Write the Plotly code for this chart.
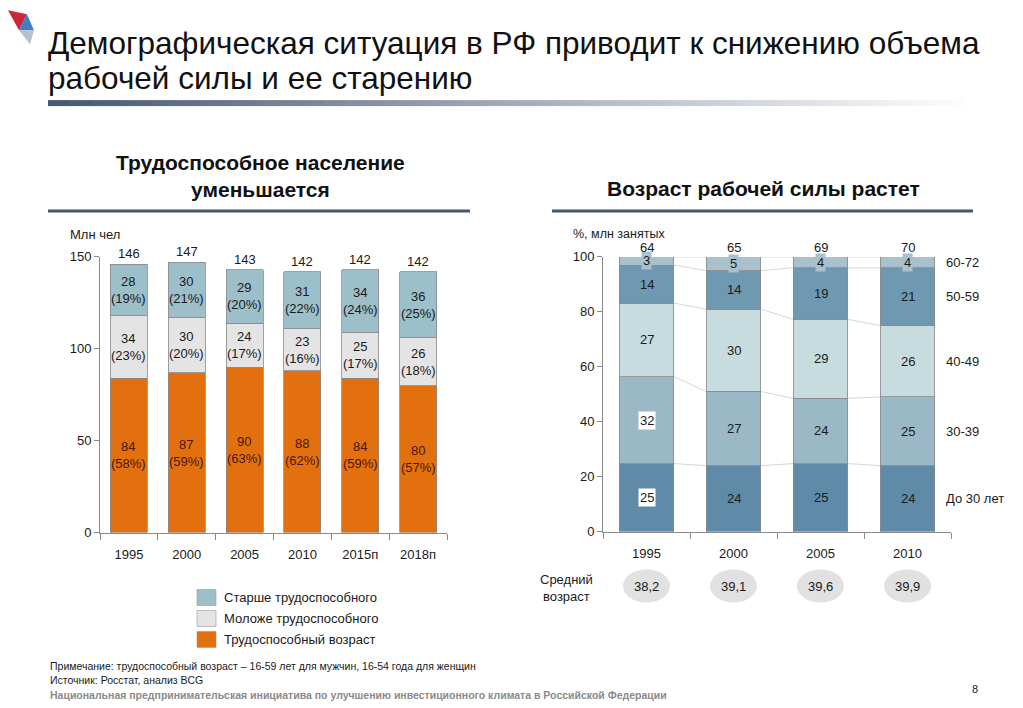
import plotly.graph_objects as go

# ---------------- data ----------------
left_years = ["1995", "2000", "2005", "2010", "2015п", "2018п"]
working_age = [84, 87, 90, 88, 84, 80]
working_pct = [58, 59, 63, 62, 59, 57]
younger = [34, 30, 24, 23, 25, 26]
younger_pct = [23, 20, 17, 16, 17, 18]
older = [28, 30, 29, 31, 34, 36]
older_pct = [19, 21, 20, 22, 24, 25]
left_totals = [146, 147, 143, 142, 142, 142]

right_years = ["1995", "2000", "2005", "2010"]
age_groups = ["До 30 лет", "30-39", "40-49", "50-59", "60-72"]
age_shares = [
    [25, 24, 25, 24],   # до 30
    [32, 27, 24, 25],   # 30-39
    [27, 30, 29, 26],   # 40-49
    [14, 14, 19, 21],   # 50-59
    [3, 5, 4, 4],       # 60-72
]
employed_totals = [64, 65, 69, 70]
avg_age = [38.2, 39.1, 39.6, 39.9]

# ---------------- styles ----------------
FONT = "Liberation Sans, Arial, sans-serif"
C_ORANGE = "#E2700F"
C_GREY = "#E4E4E4"
C_BLUE = "#9DBFCA"
age_colors = ["#5F8BA8", "#9BB8C6", "#C6DCDF", "#6F99B1", "#A8C1CD"]
OFF = 8  # page body margin
W, H = 1023 - 2 * OFF, 708
Y0, YS = 14.8, 0.98  # observed vertical placement of the figure in the page photo


def px(x):
    return (x - OFF) / W


def py(y):
    return 1 - ((y - Y0) / YS) / H


def txt(x, y, text, size=13, color="#1a1a1a", xanchor="center", family=FONT):
    return dict(x=px(x), y=py(y), xref="paper", yref="paper", text=text, showarrow=False,
                xanchor=xanchor, yanchor="middle", font=dict(size=size, color=color, family=family))


fig = go.Figure()

# ---------------- left chart ----------------
xl = list(range(len(left_years)))
bw_l = 0.64
for vals, col, name in [(working_age, C_ORANGE, "Трудоспособный возраст"),
                        (younger, C_GREY, "Моложе трудоспособного"),
                        (older, C_BLUE, "Старше трудоспособного")]:
    fig.add_trace(go.Bar(x=xl, y=vals, marker=dict(color=col, line=dict(color="#8a8a8a", width=0.8)),
                         width=bw_l, name=name, xaxis="x", yaxis="y", showlegend=False,
                         hoverinfo="skip"))

annotations = []
for i in xl:
    base = 0
    for vals, pcts, tc in [(working_age, working_pct, "#4a1800"),
                           (younger, younger_pct, "#1a1a1a"),
                           (older, older_pct, "#1a1a1a")]:
        annotations.append(dict(x=i, y=base + vals[i] / 2, xref="x", yref="y",
                                text=f"{vals[i]}<br>({pcts[i]}%)", showarrow=False,
                                xanchor="center", yanchor="middle",
                                font=dict(size=13, color=tc, family=FONT)))
        base += vals[i]
    annotations.append(dict(x=i, y=base, xref="x", yref="y", text=str(left_totals[i]),
                            showarrow=False, xanchor="center", yanchor="bottom", yshift=1,
                            font=dict(size=13, color="#1a1a1a", family=FONT)))

# ---------------- right chart ----------------
xr = list(range(len(right_years)))
bw_r = 0.63
col_sums = [sum(age_shares[g][j] for g in range(len(age_groups))) for j in xr]
norm = [[age_shares[g][j] * 100 / col_sums[j] for j in xr] for g in range(len(age_groups))]

# connector lines
cum = [[0] * len(xr) for _ in range(len(age_groups))]
for j in xr:
    s = 0
    for g in range(len(age_groups)):
        s += norm[g][j]
        cum[g][j] = s
for g in range(len(age_groups)):
    lx, ly = [], []
    for j in range(len(xr) - 1):
        lx += [xr[j] + bw_r / 2, xr[j + 1] - bw_r / 2, None]
        ly += [cum[g][j], cum[g][j + 1], None]
    fig.add_trace(go.Scatter(x=lx, y=ly, mode="lines", line=dict(color="#cccccc", width=0.8),
                             xaxis="x2", yaxis="y2", showlegend=False, hoverinfo="skip"))

for g, name in enumerate(age_groups):
    fig.add_trace(go.Bar(x=xr, y=norm[g], marker=dict(color=age_colors[g], line=dict(color="#8a8a8a", width=0.8)),
                         width=bw_r, name=name, xaxis="x2", yaxis="y2", showlegend=False,
                         hoverinfo="skip"))

for j in xr:
    base = 0
    for g in range(len(age_groups)):
        bg = None
        if j == 0 and g in (0, 1):
            bg = "white"
        if g == len(age_groups) - 1:
            bg = age_colors[g]
        a = dict(x=j, y=base + norm[g][j] / 2, xref="x2", yref="y2", text=str(age_shares[g][j]),
                 showarrow=False, xanchor="center", yanchor="middle",
                 font=dict(size=13, color="#1a1a1a", family=FONT))
        if bg:
            a["bgcolor"] = bg
            a["borderpad"] = 1
        annotations.append(a)
        base += norm[g][j]
    annotations.append(dict(x=j, y=100, xref="x2", yref="y2", text=str(employed_totals[j]),
                            showarrow=False, xanchor="center", yanchor="bottom", yshift=0,
                            font=dict(size=13, color="#1a1a1a", family=FONT)))

# group labels at right (aligned with last column)
last = xr[-1]
base = 0
for g, name in enumerate(age_groups):
    annotations.append(dict(x=px(944), y=base + norm[g][last] / 2, xref="paper", yref="y2",
                            text=name, showarrow=False, xanchor="left", yanchor="middle",
                            font=dict(size=13, color="#1a1a1a", family=FONT)))
    base += norm[g][last]

# average age ellipses
shapes = []
for j in xr:
    shapes.append(dict(type="circle", xref="x2", yref="paper", x0=j - 0.27, x1=j + 0.27,
                       y0=py(603), y1=py(570), fillcolor="#E1E1E1", line=dict(width=0), layer="below"))
    annotations.append(dict(x=j, y=py(587), xref="x2", yref="paper",
                            text=f"{avg_age[j]:.1f}".replace(".", ","), showarrow=False,
                            xanchor="center", yanchor="middle",
                            font=dict(size=13, color="#1a1a1a", family=FONT)))
annotations.append(txt(566, 588, "Средний<br>возраст", 13))

# ---------------- titles & text ----------------
annotations += [
    txt(46, 43, "Демографическая ситуация в РФ приводит к снижению объема", 31.5, "#111", "left"),
    txt(46, 78, "рабочей силы и ее старению", 31.5, "#111", "left"),
    txt(260, 176, "<b>Трудоспособное население<br>уменьшается</b>", 21, "#111"),
    txt(763, 189, "<b>Возраст рабочей силы растет</b>", 21, "#111"),
    txt(68, 235, "Млн чел", 13, xanchor="left"),
    txt(571, 234, "%, млн занятых", 12.5, xanchor="left"),
    txt(48, 667, "Примечание: трудоспособный возраст – 16-59 лет для мужчин, 16-54 года для женщин", 10.5, xanchor="left"),
    txt(48, 681, "Источник: Росстат, анализ BCG", 10.5, xanchor="left"),
    txt(48, 696, "<b>Национальная предпринимательская инициатива по улучшению инвестиционного климата в Российской Федерации</b>",
        10.5, "#8a8a8a", "left"),
    txt(975, 690, "8", 11),
]

# legend (custom)
legend_items = [("Старше трудоспособного", C_BLUE, 598),
                ("Моложе трудоспособного", C_GREY, 619),
                ("Трудоспособный возраст", C_ORANGE, 640)]
for name, col, yc in legend_items:
    shapes.append(dict(type="rect", xref="paper", yref="paper", x0=px(197), x1=px(216),
                       y0=py(yc + 8), y1=py(yc - 8), fillcolor=col, line=dict(color="#999", width=0.6)))
    annotations.append(txt(222, yc, name, 13, xanchor="left"))

# section underlines
shapes.append(dict(type="line", xref="paper", yref="paper", x0=px(48), x1=px(470), y0=py(211), y1=py(211),
                   line=dict(color="#41586d", width=3)))
shapes.append(dict(type="line", xref="paper", yref="paper", x0=px(552), x1=px(973), y0=py(211), y1=py(211),
                   line=dict(color="#41586d", width=3)))

# gradient header bar
n = 80
x_start, x_end = 48, 975
for k in range(n):
    t = k / (n - 1)
    r = int(70 + (255 - 70) * t)
    g_ = int(88 + (255 - 88) * t)
    b = int(115 + (255 - 115) * t)
    shapes.append(dict(type="rect", xref="paper", yref="paper",
                       x0=px(x_start + (x_end - x_start) * k / n), x1=px(x_start + (x_end - x_start) * (k + 1) / n + 0.5),
                       y0=py(106), y1=py(100), fillcolor=f"rgb({r},{g_},{b})", line=dict(width=0)))

# logo
shapes.append(dict(type="path", xref="paper", yref="paper",
                   path=f"M {px(8)},{py(10)} L {px(27)},{py(14)} L {px(19)},{py(30)} Z",
                   fillcolor="#c8283a", line=dict(width=0)))
shapes.append(dict(type="path", xref="paper", yref="paper",
                   path=f"M {px(27)},{py(14)} L {px(34)},{py(30)} L {px(19)},{py(30)} Z",
                   fillcolor="#3c7fc8", line=dict(width=0)))
shapes.append(dict(type="path", xref="paper", yref="paper",
                   path=f"M {px(19)},{py(30)} L {px(34)},{py(30)} L {px(30)},{py(44)} Z",
                   fillcolor="#b8c0cc", line=dict(width=0)))

axis_common = dict(showgrid=False, zeroline=False, showline=True, linecolor="#8a8a8a", linewidth=1,
                   tickfont=dict(size=13, color="#1a1a1a", family=FONT), ticks="outside",
                   ticklen=5, tickcolor="#8a8a8a")

fig.update_layout(
    width=W, height=H, margin=dict(l=0, r=0, t=0, b=0),
    paper_bgcolor="white", plot_bgcolor="white", barmode="stack", showlegend=False,
    font=dict(family=FONT),
    xaxis=dict(**{**axis_common, "ticks": ""}, domain=[px(100), px(447)], range=[-0.5, len(xl) - 0.5],
               tickvals=xl, ticktext=left_years, anchor="y", ticklabelstandoff=10,
               minor=dict(tickvals=[i - 0.5 for i in range(len(xl) + 1)], ticks="outside",
                          ticklen=6, tickcolor="#8a8a8a")),
    yaxis=dict(**axis_common, domain=[py(533), py(257)], range=[0, 150], tickvals=[0, 50, 100, 150],
               anchor="x"),
    xaxis2=dict(**{**axis_common, "ticks": ""}, domain=[px(603), px(951)], range=[-0.5, len(xr) - 0.5],
                tickvals=xr, ticktext=right_years, anchor="y2", ticklabelstandoff=10,
                minor=dict(tickvals=[i - 0.5 for i in range(len(xr) + 1)], ticks="outside",
                           ticklen=6, tickcolor="#8a8a8a")),
    yaxis2=dict(**axis_common, domain=[py(532), py(257)], range=[0, 100], tickvals=[0, 20, 40, 60, 80, 100],
                anchor="x2"),
    annotations=annotations, shapes=shapes,
)

fig.write_html("out.html")
